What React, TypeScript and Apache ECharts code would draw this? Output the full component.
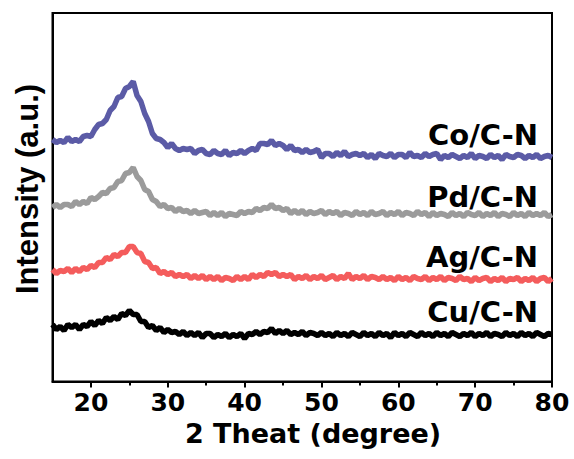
import React, { useEffect, useRef } from "react";
import * as echarts from "echarts";

// 2θ sampling grid (degrees)
const twoThetaStart = 15;
const twoThetaStep = 0.5;

// Intensities (a.u.), one value per 0.5° from 15° to 80° (offset stacked)
const coCN = [
  242, 239, 241, 239, 244, 240, 242, 240, 245, 246,
  245, 252, 257, 258, 262, 271, 275, 284, 285, 293,
  295, 300, 286, 280, 268, 260, 248, 243, 242, 239,
  234, 238, 233, 231, 233, 232, 233, 228, 231, 232,
  228, 227, 231, 228, 227, 231, 226, 229, 228, 231,
  228, 231, 233, 231, 238, 238, 237, 241, 236, 238,
  236, 232, 236, 231, 232, 229, 232, 229, 230, 232,
  224, 228, 228, 225, 229, 226, 230, 225, 227, 228,
  226, 228, 224, 227, 223, 228, 226, 225, 228, 224,
  227, 227, 224, 229, 225, 226, 224, 228, 225, 227,
  228, 222, 226, 224, 227, 225, 223, 226, 224, 228,
  223, 226, 225, 223, 227, 224, 226, 222, 227, 225,
  224, 227, 226, 223, 226, 224, 227, 223, 225, 226, 224,
];

const pdCN = [
  174, 177, 174, 177, 177, 175, 180, 177, 180, 178,
  184, 182, 185, 189, 188, 193, 194, 200, 201, 208,
  209, 214, 205, 201, 192, 190, 182, 180, 175, 177,
  173, 174, 170, 173, 170, 171, 168, 171, 168, 169,
  170, 166, 169, 166, 169, 165, 168, 167, 166, 170,
  168, 170, 169, 173, 171, 174, 173, 177, 173, 174,
  171, 173, 168, 171, 168, 171, 167, 170, 168, 169,
  171, 167, 170, 168, 170, 166, 169, 168, 166, 170,
  167, 169, 166, 170, 167, 168, 170, 166, 169, 167,
  170, 166, 169, 168, 166, 170, 167, 169, 165, 169,
  166, 168, 167, 165, 169, 166, 168, 165, 169, 167,
  166, 169, 165, 168, 166, 169, 165, 168, 167, 165,
  169, 166, 168, 165, 169, 166, 168, 166, 169, 165, 167,
];

const agCN = [
  112, 108, 111, 110, 113, 109, 113, 110, 114, 112,
  116, 114, 119, 119, 124, 122, 127, 125, 129, 129,
  135, 135, 129, 128, 120, 119, 113, 114, 108, 110,
  107, 109, 105, 107, 105, 107, 103, 106, 103, 106,
  102, 105, 102, 105, 101, 104, 103, 101, 105, 102,
  105, 102, 107, 104, 107, 105, 109, 107, 109, 105,
  107, 105, 107, 102, 105, 103, 106, 102, 105, 103,
  106, 102, 104, 106, 102, 105, 103, 108, 102, 105,
  103, 106, 102, 105, 104, 102, 105, 102, 104, 101,
  105, 102, 104, 101, 105, 103, 102, 105, 101, 104,
  102, 105, 101, 104, 103, 101, 105, 102, 103, 100,
  104, 101, 103, 104, 100, 103, 101, 104, 100, 103,
  102, 104, 100, 103, 101, 104, 100, 103, 104, 100, 103,
];

const cuCN = [
  57, 52, 55, 51, 57, 54, 57, 52, 57, 55,
  60, 56, 61, 58, 64, 61, 65, 62, 68, 66,
  71, 67, 67, 60, 60, 54, 56, 51, 54, 49,
  52, 49, 50, 47, 50, 46, 49, 46, 49, 44,
  48, 48, 44, 47, 45, 48, 44, 47, 45, 48,
  43, 48, 47, 50, 47, 50, 49, 53, 48, 51,
  48, 51, 47, 49, 47, 50, 46, 49, 48, 46,
  49, 46, 48, 45, 49, 46, 48, 45, 49, 47,
  45, 49, 46, 48, 45, 49, 46, 48, 44, 49,
  46, 48, 45, 49, 47, 45, 49, 46, 48, 45,
  49, 46, 48, 45, 49, 47, 45, 48, 46, 49,
  45, 48, 46, 49, 45, 48, 47, 45, 49, 46,
  48, 45, 49, 46, 48, 45, 49, 47, 45, 48, 47,
];

const seriesNames = ["Co/C-N", "Pd/C-N", "Ag/C-N", "Cu/C-N"];
const seriesValues = [coCN, pdCN, agCN, cuCN];
const seriesColors = ["#5b5ba6", "#9b9b9b", "#f45c5c", "#000000"];
const labelY = [135, 197, 257, 312];

const majorTicks = [20, 30, 40, 50, 60, 70, 80];
const minorTicks = [25, 35, 45, 55, 65, 75];

const FONT_V = "Arial, 'Liberation Sans', Helvetica, sans-serif";
const FONT_H = "'DejaVu Sans', Arial, 'Liberation Sans', sans-serif";

export default function App() {
  const ref = useRef<HTMLDivElement>(null);

  useEffect(() => {
    if (!ref.current) return;
    const chart = echarts.init(ref.current, null, { renderer: "svg" });
    const toPairs = (arr: number[]) =>
      arr.map((v, i) => [twoThetaStart + i * twoThetaStep, v]);

    const textBase = {
      fontWeight: "bold",
      fontFamily: FONT_H,
      fill: "#000",
    };

    chart.setOption({
      animation: false,
      backgroundColor: "#ffffff",
      grid: {
        left: 52.5,
        right: 22,
        top: 13,
        bottom: 77.5,
        show: true,
        borderColor: "#000",
        borderWidth: 2,
        backgroundColor: "transparent",
      },
      xAxis: [
        {
          type: "value",
          min: 15,
          max: 80,
          interval: 5,
          axisLine: { show: true, onZero: false, lineStyle: { color: "#000", width: 2 } },
          axisTick: {
            show: true,
            customValues: majorTicks,
            length: 6,
            lineStyle: { color: "#000", width: 2 },
          },
          axisLabel: { show: false },
          splitLine: { show: false },
        },
        {
          type: "value",
          min: 15,
          max: 80,
          position: "bottom",
          axisLine: { show: false, onZero: false },
          axisTick: {
            show: true,
            customValues: minorTicks,
            length: 4,
            lineStyle: { color: "#000", width: 2 },
          },
          axisLabel: { show: false },
          splitLine: { show: false },
        },
      ],
      yAxis: {
        type: "value",
        min: 0,
        max: 368.5,
        axisLine: { show: true, lineStyle: { color: "#000", width: 2 } },
        axisTick: { show: false },
        axisLabel: { show: false },
        splitLine: { show: false },
      },
      series: seriesValues.map((vals, k) => ({
        name: seriesNames[k],
        type: "line",
        xAxisIndex: 0,
        data: toPairs(vals),
        showSymbol: false,
        symbol: "none",
        lineStyle: { color: seriesColors[k], width: 5.5 },
        itemStyle: { color: seriesColors[k] },
      })),
    });

    // Tick labels placed through the x axis' own scale
    const tickLabelGraphics = majorTicks.map((v) => {
      const px = chart.convertToPixel({ xAxisIndex: 0 }, v) as number;
      return {
        type: "text",
        x: px,
        y: 402.5,
        style: {
          ...textBase,
          text: String(v),
          fontSize: 25,
          align: "center",
          verticalAlign: "middle",
        },
      };
    });

    chart.setOption({
      graphic: [
        ...tickLabelGraphics,
        {
          type: "text",
          x: 27,
          y: 189,
          rotation: Math.PI / 2,
          style: {
            ...textBase,
            fontFamily: FONT_V,
            text: "Intensity (a.u.)",
            fontSize: 31,
            align: "center",
            verticalAlign: "middle",
          },
        },
        {
          type: "text",
          x: 313,
          y: 433,
          style: {
            ...textBase,
            text: "2 Theat (degree)",
            fontSize: 27,
            align: "center",
            verticalAlign: "middle",
          },
        },
        ...seriesNames.map((name, k) => ({
          type: "text",
          x: 538,
          y: labelY[k],
          style: {
            ...textBase,
            text: name,
            fontSize: 29,
            align: "right",
            verticalAlign: "middle",
          },
        })),
      ],
    });

    return () => chart.dispose();
  }, []);

  return (
    <div
      ref={ref}
      style={{ position: "fixed", left: 0, top: 0, width: 574, height: 459 }}
    />
  );
}
